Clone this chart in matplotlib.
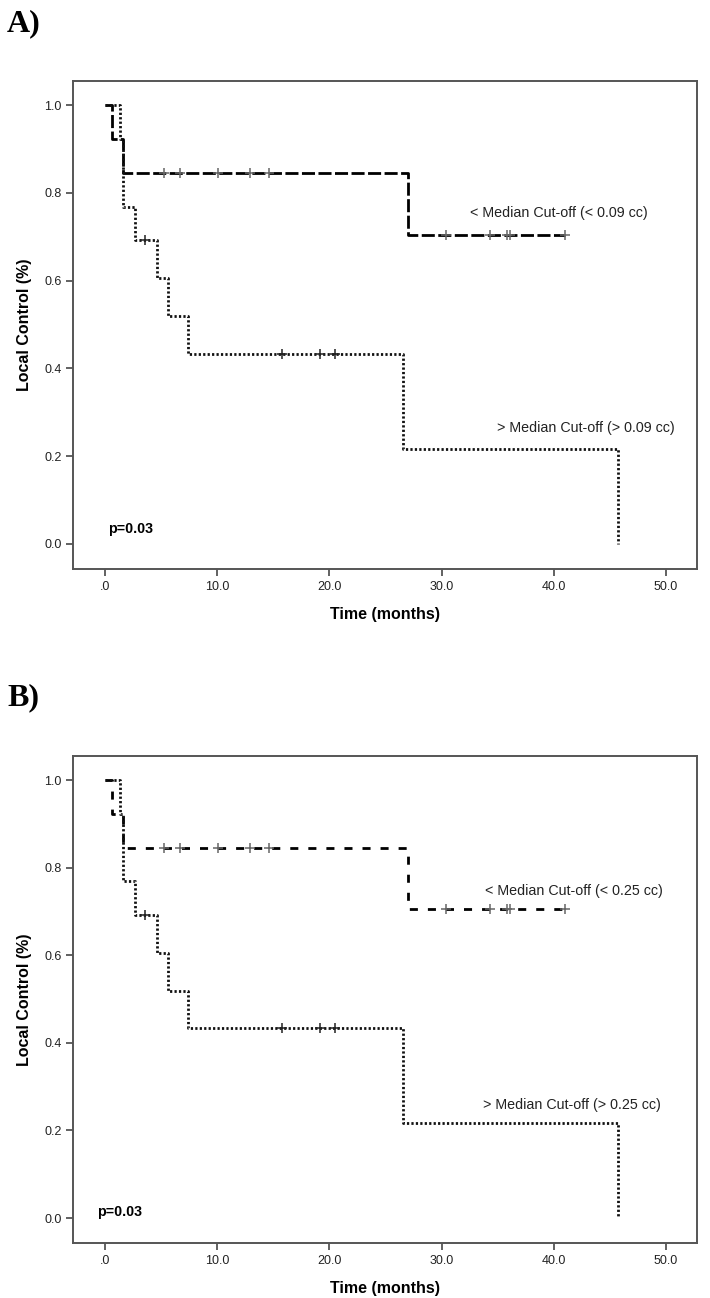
"""Two Kaplan-Meier panels: local control by median volume cut-off."""

import matplotlib
matplotlib.use("Agg")
import matplotlib.pyplot as plt

# ── Data ──────────────────────────────────────────────────────────────────────
# below-median group (dashed)
below_t = [0.0, 0.6, 1.6, 27.0, 41.0]
below_s = [1.0, 0.923, 0.846, 0.705, 0.705]
below_cens_t = [5.3, 6.7, 10.1, 12.9, 14.6, 30.4, 34.3, 35.8, 36.1, 41.0]
below_cens_s = [0.846, 0.846, 0.846, 0.846, 0.846,
                0.705, 0.705, 0.705, 0.705, 0.705]

# above-median group (dotted)
above_t = [0.0, 1.3, 1.6, 2.7, 4.6, 5.6, 7.4, 26.6, 45.7]
above_s = [1.0, 0.923, 0.769, 0.692, 0.606, 0.519, 0.433, 0.216, 0.0]
above_cens_t = [3.6, 15.8, 19.2, 20.5]
above_cens_s = [0.692, 0.433, 0.433, 0.433]

panel_tags = ["A)", "B)"]
below_labels = ["< Median Cut-off (< 0.09 cc)", "< Median Cut-off (< 0.25 cc)"]
above_labels = ["> Median Cut-off (> 0.09 cc)", "> Median Cut-off (> 0.25 cc)"]
p_text = "p=0.03"

x_ticks = [0, 10, 20, 30, 40, 50]
x_ticklabels = [".0", "10.0", "20.0", "30.0", "40.0", "50.0"]
y_ticks = [0.0, 0.2, 0.4, 0.6, 0.8, 1.0]
y_ticklabels = ["0.0", "0.2", "0.4", "0.6", "0.8", "1.0"]

SANS = "Liberation Sans"
SPINE = "#555555"

fig = plt.figure(figsize=(7.10, 12.98), dpi=100)
W, H = 710, 1298


def draw_panel(ax, dash, below_lab, above_lab, below_pos, above_pos, p_pos):
    lw = 2.0
    ax.step(below_t, below_s, where="post", color="black", lw=lw,
            linestyle=(0, dash))
    ax.step(above_t, above_s, where="post", color="#111111", lw=lw,
            linestyle=(0, (0.8, 0.8)))
    ax.plot(below_cens_t, below_cens_s, "+", color="#666666",
            markersize=7.5, mew=1.1, zorder=4)
    ax.plot(above_cens_t, above_cens_s, "+", color="#222222",
            markersize=7.5, mew=1.1, zorder=4)

    ax.text(*below_pos, below_lab, fontsize=10.3, family=SANS,
            color="#222222", va="baseline")
    ax.text(*above_pos, above_lab, fontsize=10.3, family=SANS,
            color="#222222", va="baseline")
    ax.text(*p_pos, p_text, fontsize=10.3, family=SANS,
            fontweight="bold", va="baseline")

    ax.set_xlim(-2.85, 52.76)
    ax.set_ylim(-0.057, 1.055)
    ax.set_xticks(x_ticks)
    ax.set_xticklabels(x_ticklabels, family=SANS, fontsize=9, color="#222222")
    ax.set_yticks(y_ticks)
    ax.set_yticklabels(y_ticklabels, family=SANS, fontsize=9, color="#222222")
    ax.tick_params(direction="out", length=5, width=1.3, color=SPINE,
                   pad=3)
    ax.tick_params(axis="x", pad=4)
    for sp in ax.spines.values():
        sp.set_color(SPINE)
        sp.set_linewidth(1.4)

    ax.set_xlabel("Time (months)", family=SANS, fontsize=11.5,
                  fontweight="bold", labelpad=10)
    ax.set_ylabel("Local Control (%)", family=SANS, fontsize=11.5,
                  fontweight="bold", labelpad=9)


# ── Panel A ───────────────────────────────────────────────────────────────────
ax_a = fig.add_axes([73 / W, 1 - 569 / H, 624 / W, 488 / H])
draw_panel(ax_a, (4.7, 1.25), below_labels[0], above_labels[0],
           (32.5, 0.745), (34.9, 0.255), (0.3, 0.025))

# ── Panel B ───────────────────────────────────────────────────────────────────
ax_b = fig.add_axes([73 / W, 1 - 1243 / H, 624 / W, 487 / H])
draw_panel(ax_b, (2.9, 3.6), below_labels[1], above_labels[1],
           (33.9, 0.737), (33.7, 0.249), (-0.7, 0.005))

# panel tags
fig.text(7 / W, 1 - 31 / H, panel_tags[0], family="Liberation Serif",
         fontweight="bold", fontsize=23, va="baseline")
fig.text(7 / W, 1 - 705 / H, panel_tags[1], family="Liberation Serif",
         fontweight="bold", fontsize=23, va="baseline")

fig.savefig("out.png", dpi=100, facecolor="white")
